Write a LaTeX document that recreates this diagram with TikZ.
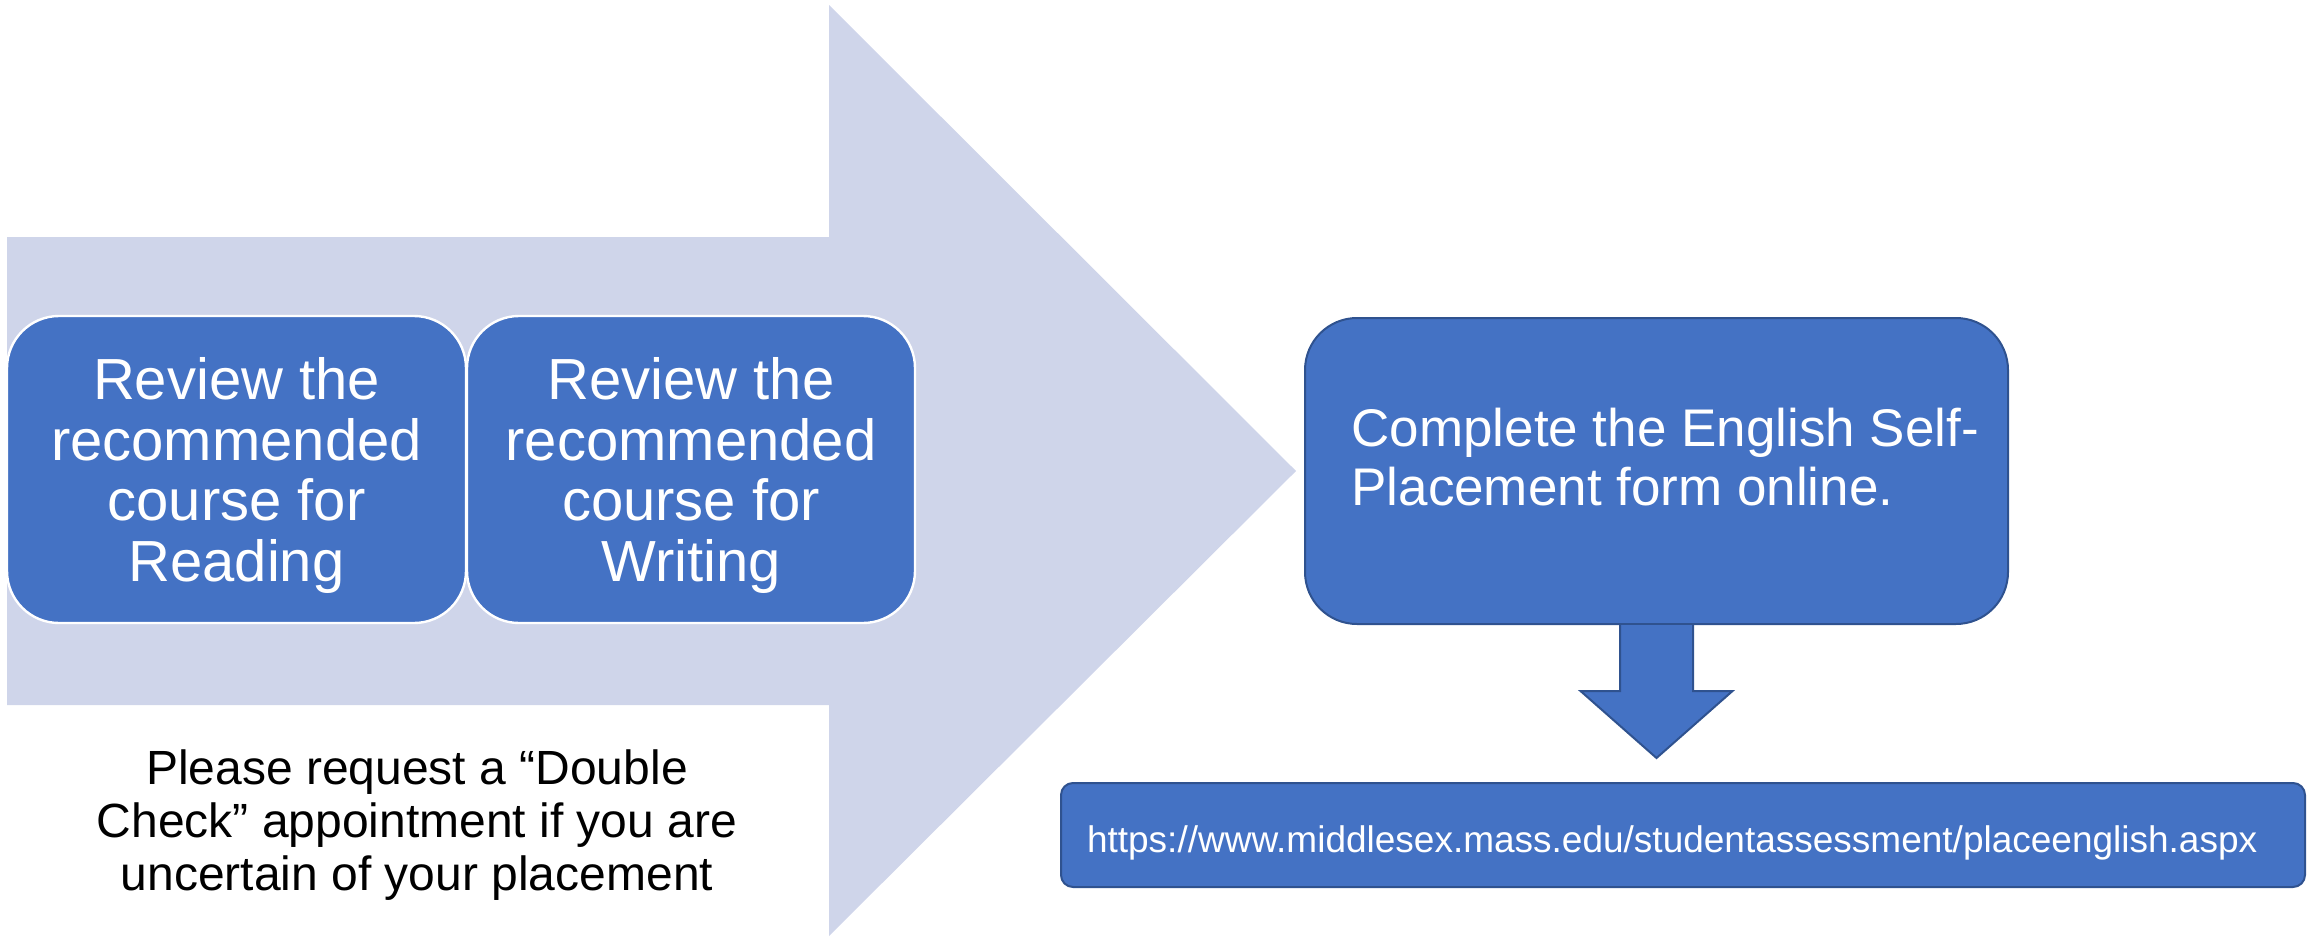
\documentclass[tikz,border=0pt]{standalone}
\usepackage{fontspec}
\setmainfont{Liberation Sans}
\usetikzlibrary{calc}
\definecolor{lightarrow}{HTML}{CFD5EA}
\definecolor{myblue}{HTML}{4472C4}
\definecolor{myborder}{HTML}{2F528F}
\newcommand{\boxlines}[1]{\begin{tabular}{@{}c@{}}\rule{0pt}{30.2pt}#1\end{tabular}}
\tikzset{
  stepbox/.style={fill=myblue, draw=white, line width=1.2pt, rounded corners=26pt, inner sep=0pt,
    text=white, font=\fontsize{29}{30.3}\selectfont,
    minimum height=153.5pt},
  darkbox/.style={fill=myblue, draw=myborder, line width=1pt, text=white},
}
\begin{document}
\begin{tikzpicture}[x=0.5pt,y=-0.5pt]
\useasboundingbox (0,0) rectangle (2318,937);
% big background arrow
\fill[lightarrow] (7,237) -- (829,237) -- (829,5) -- (1296,471) -- (829,936) -- (829,705) -- (7,705) -- cycle;
% step boxes
\node[stepbox, minimum width=229.5pt] (read) at (236.5,469.5) {\boxlines{Review the\\recommended\\course for\\Reading}};
\node[stepbox, minimum width=224pt] (write) at (691,469.5) {\boxlines{Review the\\recommended\\course for\\Writing}};
% note
\node[font=\fontsize{24}{26.3}\selectfont, align=center, inner sep=0pt] (note) at (417,825)
  {Please request a “Double\\Check” appointment if you are\\uncertain of your placement};
% form box
\node[darkbox, rounded corners=26pt, minimum width=351.5pt, minimum height=153pt, inner sep=0pt] (form) at (1656.5,471) {};
\node[anchor=west, inner sep=0pt, text=white, font=\fontsize{26.5}{29.5}\selectfont, align=left] (formtext) at (1351,457)
  {Complete the English Self-\\Placement form online.};
% url box
\node[darkbox, rounded corners=6pt, minimum width=622pt, minimum height=52pt, inner xsep=13pt, inner ysep=0pt,
  text width=596pt, text height=17pt, text depth=0pt, align=left, font=\fontsize{18.5}{22}\selectfont] (url) at (1683,835)
  {https://www.middlesex.mass.edu/studentassessment/placeenglish.aspx};
% down arrow
\filldraw[fill=myblue, draw=myborder, line width=1pt]
  ($(form.south)+(-36.5,0)$) -- ++(0,66) -- ++(-39.5,0) -- ($(form.south)+(0,133)$)
  -- ($(form.south)+(76,66)$) -- ++(-39.5,0) -- ($(form.south)+(36.5,0)$);
\end{tikzpicture}
\end{document}
